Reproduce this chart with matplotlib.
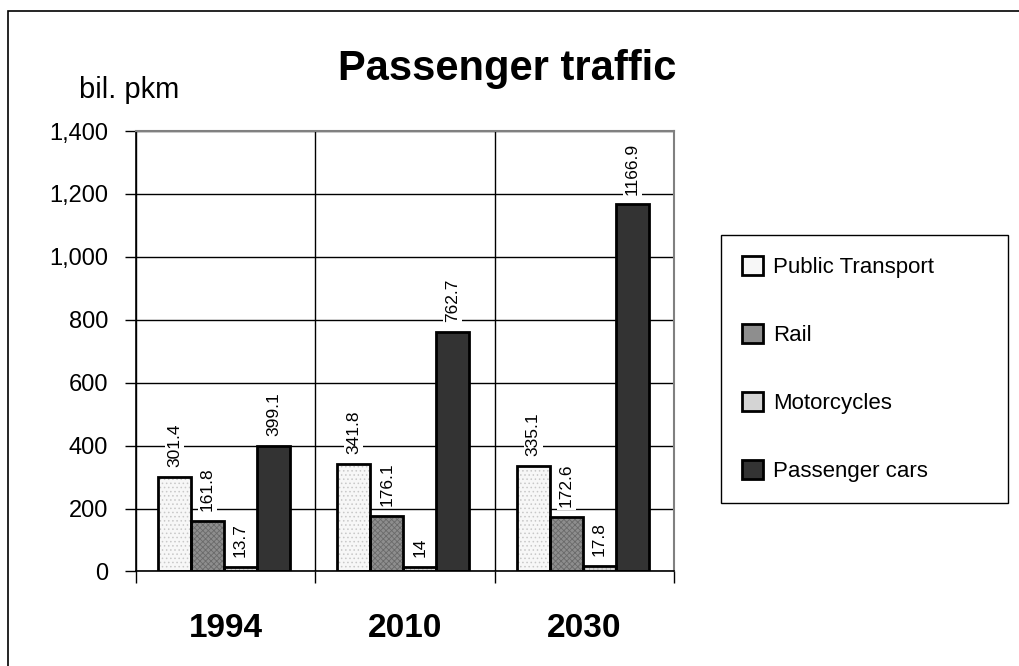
import matplotlib.pyplot as plt
import numpy as np
from matplotlib.patches import Rectangle
from matplotlib.ticker import FuncFormatter

years = ["1994", "2010", "2030"]
series = ["Public Transport", "Rail", "Motorcycles", "Passenger cars"]
public_transport = [301.4, 341.8, 335.1]
rail = [161.8, 176.1, 172.6]
motorcycles = [13.7, 14, 17.8]
passenger_cars = [399.1, 762.7, 1166.9]
value_labels = [
    ["301.4", "341.8", "335.1"],
    ["161.8", "176.1", "172.6"],
    ["13.7", "14", "17.8"],
    ["399.1", "762.7", "1166.9"],
]

plt.rcParams["font.family"] = ["Liberation Sans", "DejaVu Sans"]
plt.rcParams["hatch.linewidth"] = 0.6

fig = plt.figure(figsize=[10.19, 6.66], dpi=100)
ax = fig.add_axes([0.1335, 0.1419, 0.528, 0.6614])

# outer frame (only top/left visible in original)
fig.patches.append(Rectangle((8 / 1019, -0.1), 1.2, 1 - 11 / 666 + 0.1,
                             transform=fig.transFigure, fill=False,
                             edgecolor="black", linewidth=1.2))

values = [public_transport, rail, motorcycles, passenger_cars]
fills = ["#f7f7f7", "#8e8e8e", "#d4d4d4", "#333333"]
hatches = ["....", "xxxxxx", "||||", None]
hatch_colors = ["#c8c8c8", "#6a6a6a", "#aaaaaa", "#333333"]

x = np.arange(len(years))
width = 0.184
offsets = (np.arange(4) - 1.5) * width - 0.01

for i in range(4):
    ax.bar(x + offsets[i], values[i], width=width, color=fills[i],
           hatch=hatches[i], edgecolor=hatch_colors[i], linewidth=0, zorder=2)
    ax.bar(x + offsets[i], values[i], width=width, fill=False,
           edgecolor="black", linewidth=2, zorder=3, label=series[i])
    for j in range(3):
        ax.annotate(value_labels[i][j], (x[j] + offsets[i], values[i][j]),
                    xytext=(0, 7), textcoords="offset points",
                    rotation=90, ha="center", va="bottom", fontsize=12.5,
                    zorder=4,
                    bbox=dict(facecolor="white", edgecolor="none", pad=1.5))

ax.set_ylim(0, 1400)
ax.set_xlim(-0.5, 2.5)
ax.set_yticks(np.arange(0, 1401, 200))
ax.yaxis.set_major_formatter(FuncFormatter(lambda v, p: f"{int(v):,}"))
ax.set_xticks(x)
ax.set_xticklabels(years, fontsize=24, fontweight="bold")
ax.set_xticks([-0.5, 0.5, 1.5, 2.5], minor=True)
ax.tick_params(axis="x", which="major", length=0, pad=30)
ax.tick_params(axis="x", which="minor", length=8.5, direction="out", width=1)
ax.tick_params(axis="y", length=8, pad=12, labelsize=17, width=1)

ax.grid(axis="y", color="black", linewidth=1, zorder=0)
ax.grid(axis="x", which="minor", color="black", linewidth=1, zorder=0)
ax.set_axisbelow(True)
for side in ["top", "right"]:
    ax.spines[side].set_color("#808080")
    ax.spines[side].set_linewidth(1.5)
ax.spines["left"].set_linewidth(1.2)
ax.spines["bottom"].set_linewidth(1.2)

fig.text(507 / 1019, 1 - 80 / 666, "Passenger traffic", fontsize=30,
         fontweight="bold", ha="center", va="baseline")
fig.text(79 / 1019, 1 - 98 / 666, "bil. pkm", fontsize=21, ha="left",
         va="baseline")

leg = ax.legend(loc="center left", mode="expand",
                bbox_to_anchor=(721 / 1019, 1 - 504 / 666, 287 / 1019, 270 / 666),
                bbox_transform=fig.transFigure, borderaxespad=0,
                fontsize=16, handlelength=0.95, handleheight=0.95,
                handletextpad=0.45, labelspacing=2.05, borderpad=0.95,
                fancybox=False, edgecolor="black", framealpha=1)
leg.get_frame().set_linewidth(1)
for h, c in zip(leg.legend_handles, fills):
    h.set_facecolor(c)
    h.set_fill(True)

plt.savefig("out.png", dpi=100)
